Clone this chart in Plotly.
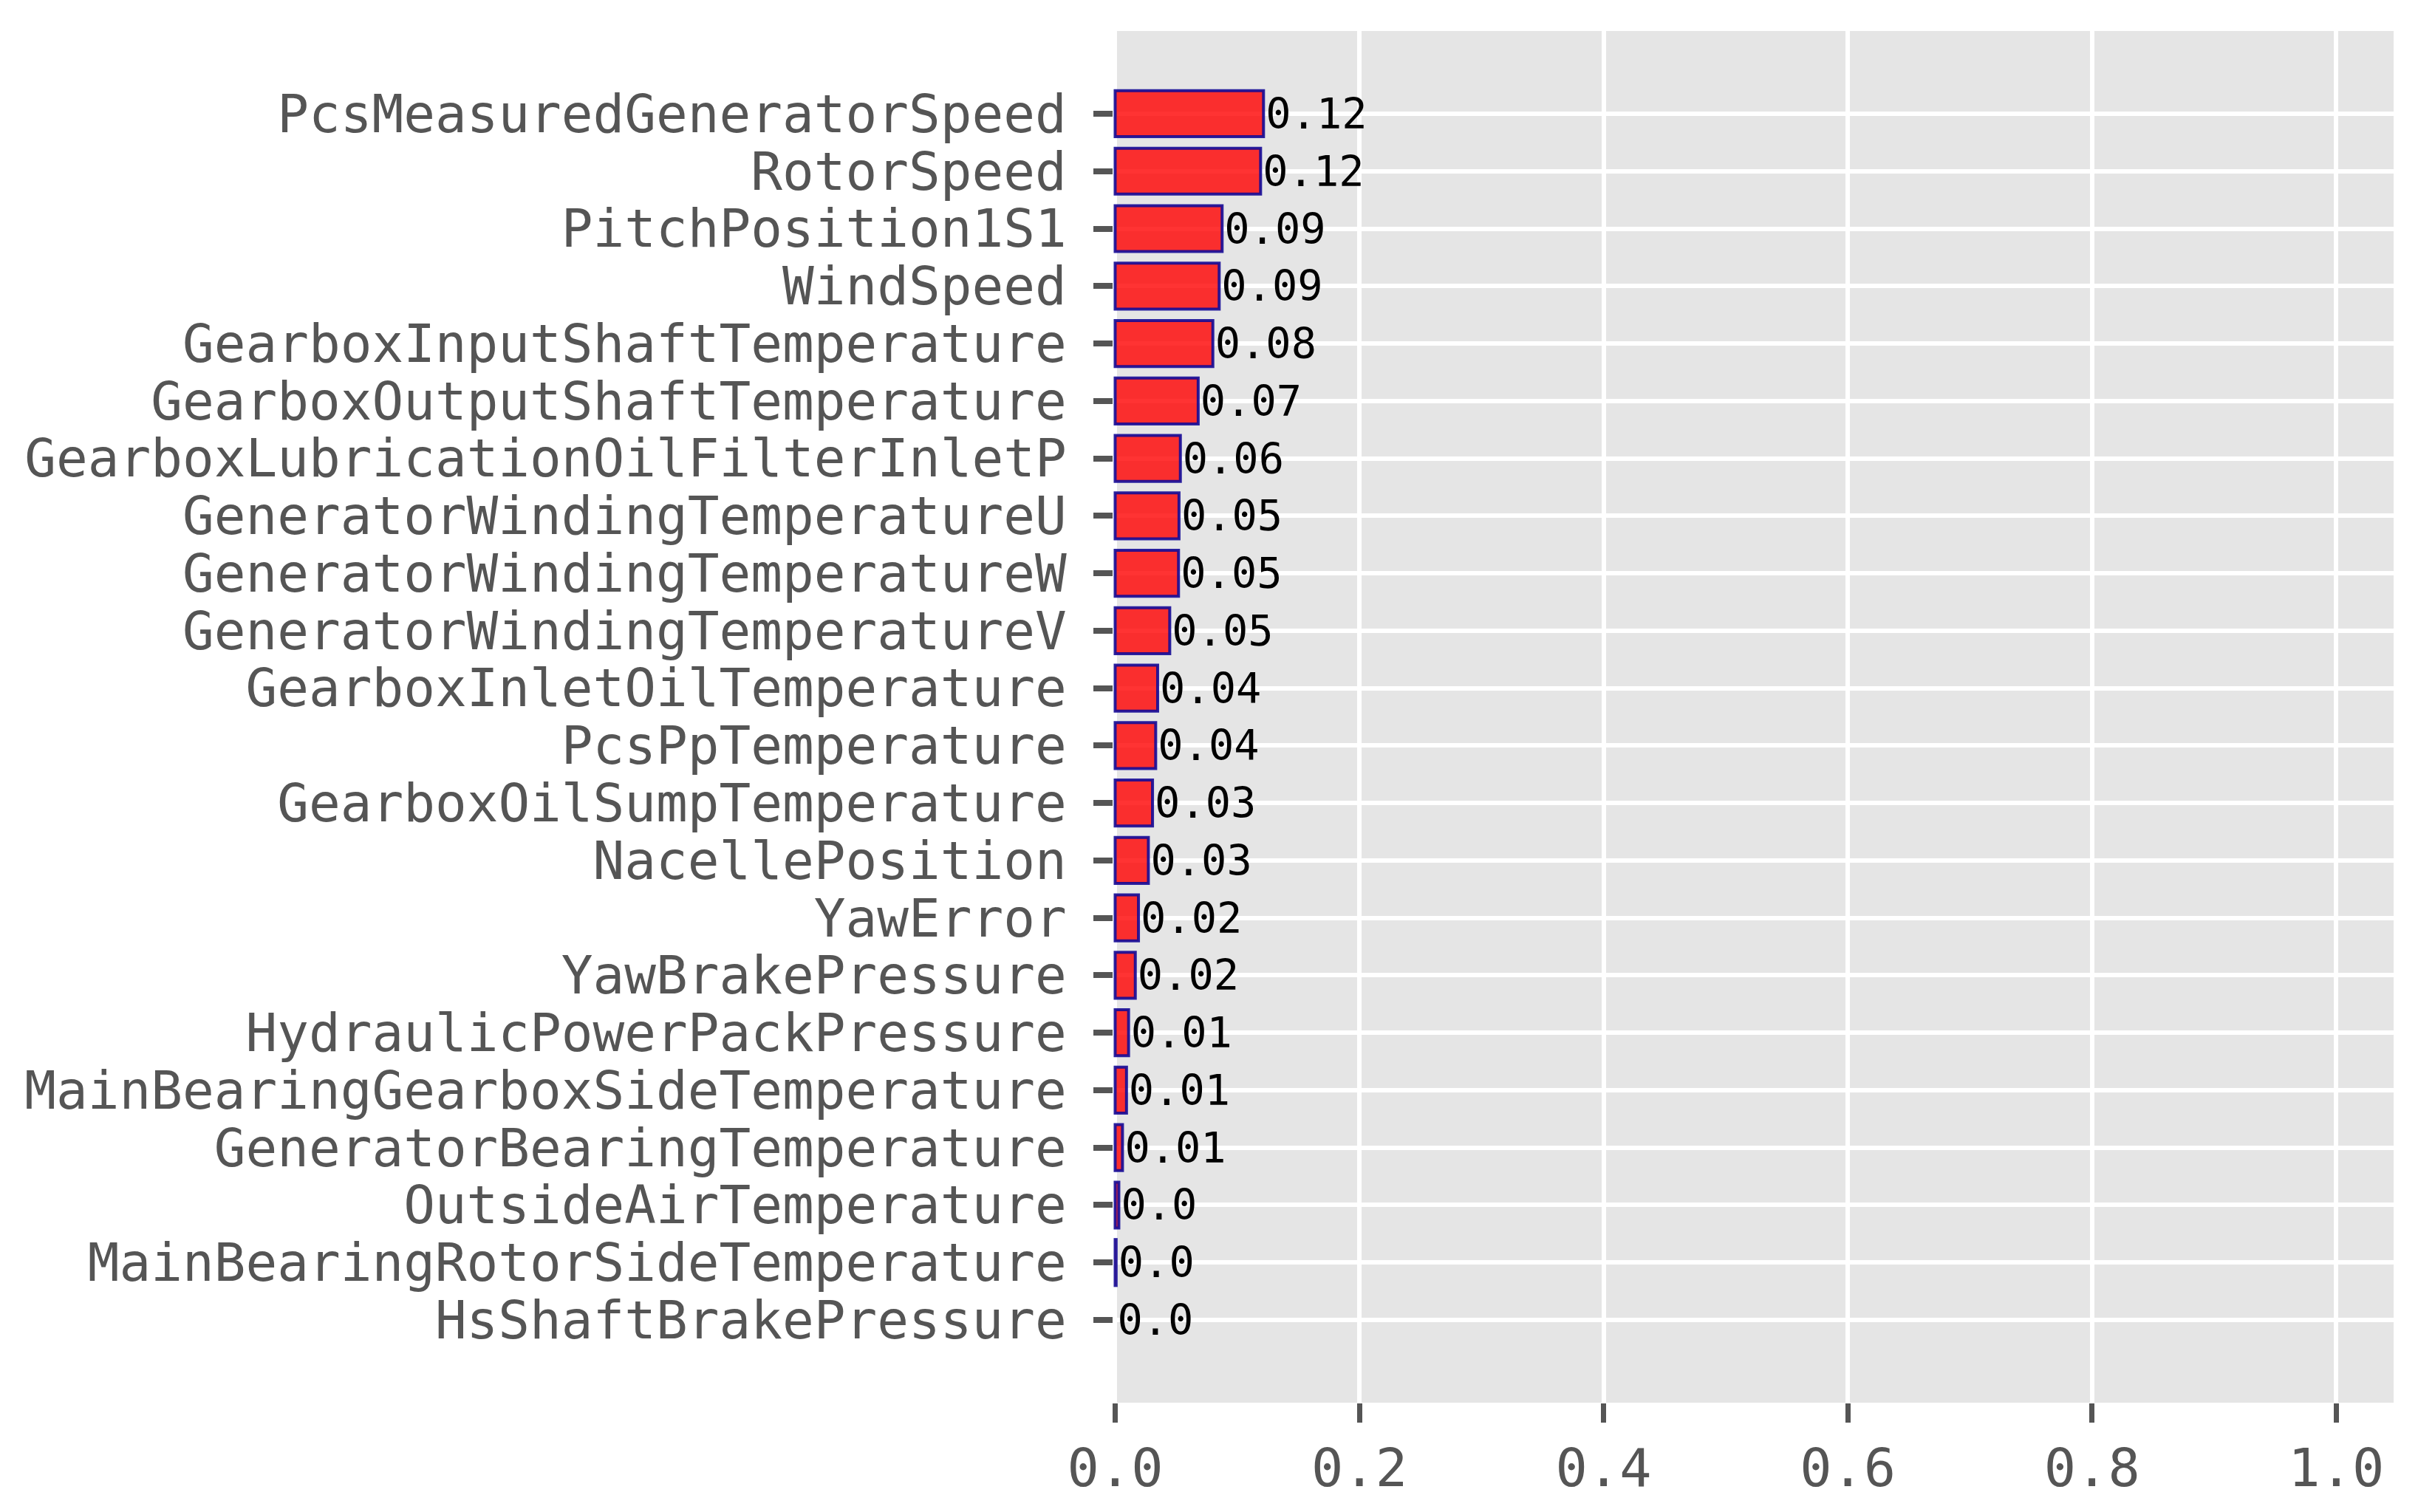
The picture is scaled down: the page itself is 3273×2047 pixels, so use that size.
import plotly.graph_objects as go

# Merkmale (von oben nach unten) und ihre Wichtigkeit
features = [
    'PcsMeasuredGeneratorSpeed', 'RotorSpeed', 'PitchPosition1S1', 'WindSpeed',
    'GearboxInputShaftTemperature', 'GearboxOutputShaftTemperature',
    'GearboxLubricationOilFilterInletP', 'GeneratorWindingTemperatureU',
    'GeneratorWindingTemperatureW', 'GeneratorWindingTemperatureV',
    'GearboxInletOilTemperature', 'PcsPpTemperature', 'GearboxOilSumpTemperature',
    'NacellePosition', 'YawError', 'YawBrakePressure', 'HydraulicPowerPackPressure',
    'MainBearingGearboxSideTemperature', 'GeneratorBearingTemperature',
    'OutsideAirTemperature', 'MainBearingRotorSideTemperature', 'HsShaftBrakePressure',
]
importance = [
    0.1215, 0.1191, 0.0876, 0.0852, 0.0800, 0.0680, 0.0534, 0.0523, 0.0519,
    0.0447, 0.0348, 0.0332, 0.0306, 0.0272, 0.0191, 0.0165, 0.0110, 0.0093,
    0.0060, 0.0030, 0.0008, 0.0,
]
value_labels = [
    '0.12', '0.12', '0.09', '0.09', '0.08', '0.07', '0.06', '0.05', '0.05',
    '0.05', '0.04', '0.04', '0.03', '0.03', '0.02', '0.02', '0.01', '0.01',
    '0.01', '0.0', '0.0', '0.0',
]
x_ticks = [0.0, 0.2, 0.4, 0.6, 0.8, 1.0]
x_ticklabels = ['0.0', '0.2', '0.4', '0.6', '0.8', '1.0']

mono = 'DejaVu Sans Mono'

# Balken mit Wert 0 ohne Rand
edge_widths = [4 if v > 0 else 0 for v in importance]

fig = go.Figure()
fig.add_trace(go.Bar(
    x=importance, y=features, orientation='h', width=0.8,
    marker=dict(color='rgba(255,0,0,0.8)',
                line=dict(color='rgba(20,10,150,0.9)', width=edge_widths)),
    text=value_labels, textposition='outside', textangle=0,
    constraintext='none', cliponaxis=False,
    outsidetextfont=dict(family=mono, size=57, color='black'),
    showlegend=False,
))

# Seite hat 8px Rand im Body -> Groesse und Raender entsprechend
fig.update_layout(
    width=3265, height=2039,
    margin=dict(l=1499, r=33, t=34, b=148),
    paper_bgcolor='white', plot_bgcolor='#E5E5E5',
    xaxis=dict(
        range=[-0.0015, 1.047], tickvals=x_ticks, ticktext=x_ticklabels,
        showgrid=True, gridcolor='white', gridwidth=6, zeroline=False,
        ticks='outside', ticklen=26, tickwidth=7, tickcolor='#555555',
        tickfont=dict(family=mono, size=72, color='#555555'),
        showline=False, automargin=False,
    ),
    yaxis=dict(
        type='category', range=[22.44, -1.44], dtick=1,
        showgrid=True, gridcolor='white', gridwidth=6, zeroline=False,
        ticks='outside', ticklen=26, tickwidth=8, tickcolor='#555555',
        tickfont=dict(family=mono, size=71, color='#555555'),
        ticklabelstandoff=22,
        showline=False, automargin=False,
    ),
)

fig.write_html('out.html')
